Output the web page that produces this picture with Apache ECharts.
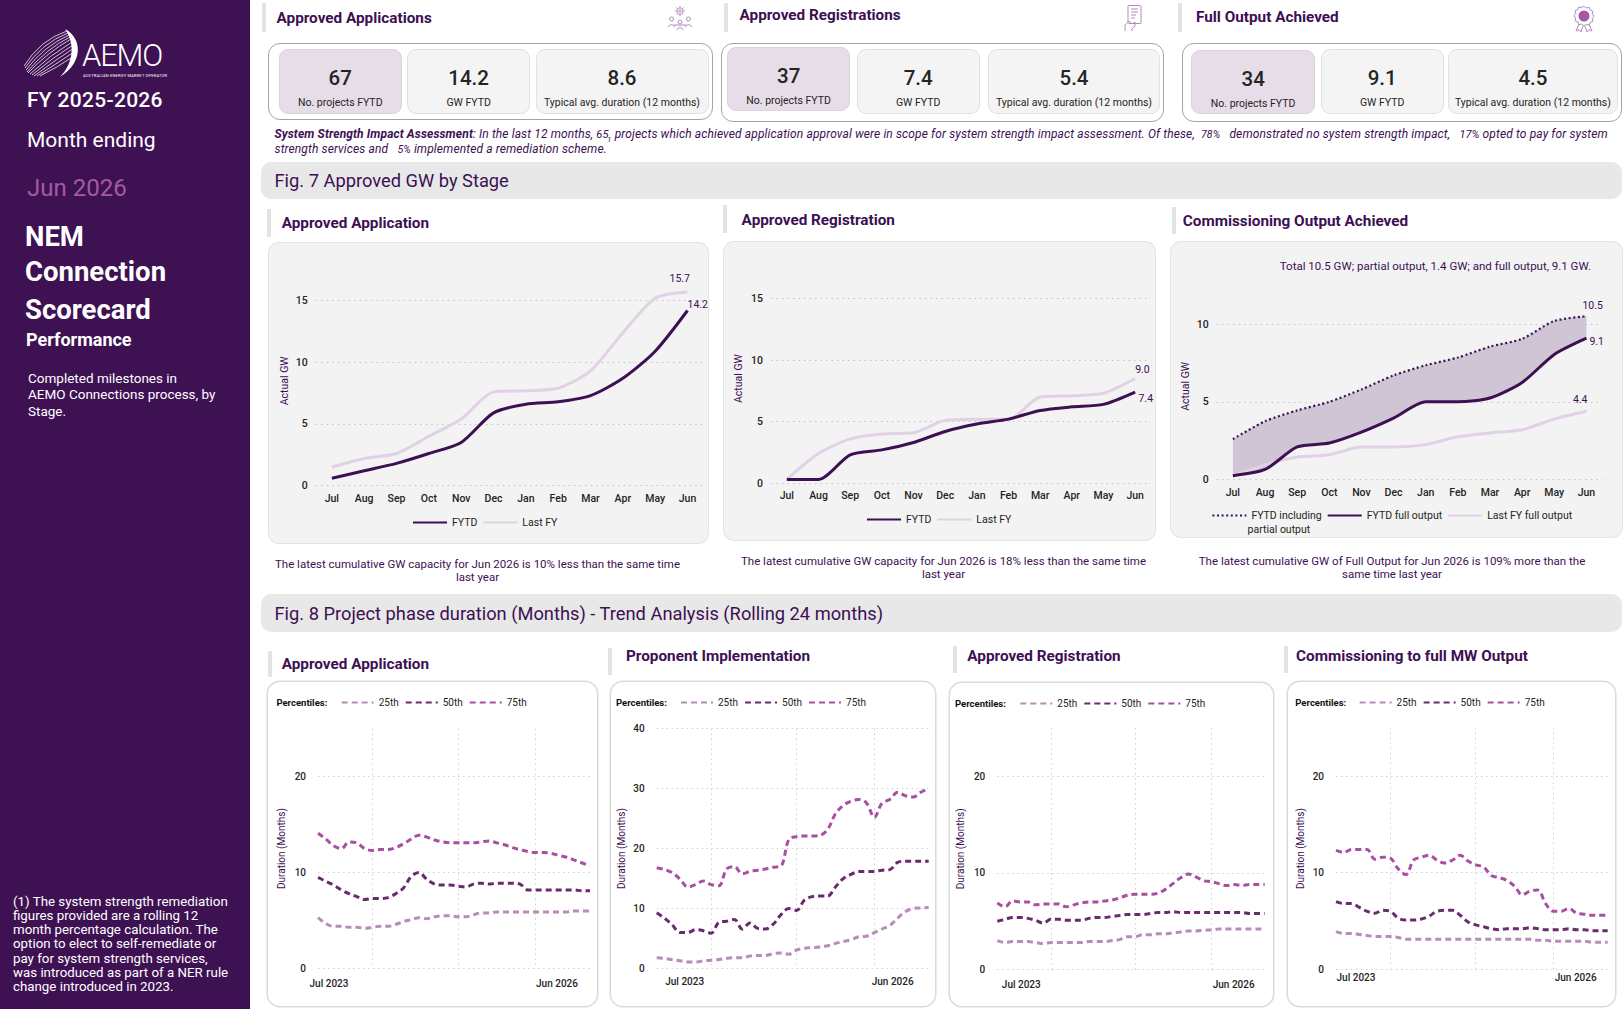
<!DOCTYPE html>
<html>
<head>
<meta charset="utf-8">
<title>NEM Connection Scorecard</title>
<script src="https://cdn.jsdelivr.net/npm/echarts@6.0.0/dist/echarts.min.js"></script>
<style>
html,body{margin:0;padding:0;}
body{width:1624px;height:1009px;position:relative;overflow:hidden;background:#fff;font-family:Roboto,"Noto Sans","DejaVu Sans",sans-serif;color:#252423;}
.a{position:absolute;white-space:nowrap;}
.hbar{position:absolute;width:4px;background:#e3e3e3;}
.h{position:absolute;font-weight:700;font-size:15.3px;line-height:20px;color:#3c1053;white-space:nowrap;}
.outer{position:absolute;border:1.5px solid #a3a3a3;border-radius:12px;background:#fff;box-sizing:border-box;}
.kcard{position:absolute;border:1px solid #e2e2e2;border-radius:9px;background:#f4f4f4;box-sizing:border-box;text-align:center;}
.kcard.hl{background:#e7dde8;border-color:#ddd1de;}
.kval{position:absolute;left:0;right:0;top:17px;font-size:20.5px;line-height:22px;font-weight:500;color:#252423;}
.klab{position:absolute;left:0;right:0;top:46.5px;font-size:10.5px;line-height:13px;color:#252423;white-space:nowrap;}
.banner{position:absolute;background:#e8e8e8;border-radius:10px;}
.btxt{position:absolute;font-size:18.3px;line-height:22px;color:#3c1053;white-space:nowrap;}
.c7{position:absolute;background:#f3f3f3;border-radius:10px;box-shadow:0 0 0 1px #e4e4e4;}
.c8{position:absolute;background:#fff;border-radius:12px;box-shadow:0 0 0 1.5px #dadada;}
.cap{position:absolute;width:480px;text-align:center;font-size:11.5px;line-height:13.6px;color:#3c1053;}
.ss{position:absolute;left:274.5px;top:126.5px;font-size:12px;letter-spacing:0.12px;line-height:14.5px;font-style:italic;color:#3c1053;white-space:nowrap;}
.ss sup{font-size:8px;line-height:0;vertical-align:top;position:relative;top:-2px;}
</style>
</head>
<body>
<!-- Sidebar -->
<div class="a" style="left:0;top:0;width:250px;height:1009px;background:#3e1153;"></div>
<svg class="a" style="left:20px;top:26px" width="160" height="56" viewBox="0 0 160 56">
  <g fill="none" stroke="#ffffff" stroke-width="0.8" opacity="0.95">
    <path d="M4 40 Q20 14 47 5"/>
    <path d="M5 42 Q22 17 48 7"/>
    <path d="M6 44 Q24 20 49 9"/>
    <path d="M7 46 Q26 23 50 11"/>
    <path d="M8 47 Q28 26 51 13"/>
    <path d="M10 48 Q30 29 52 16"/>
    <path d="M12 49 Q32 32 53 19"/>
    <path d="M14 50 Q34 35 54 22"/>
    <path d="M17 50 Q36 38 54 26"/>
    <path d="M20 50 Q38 41 54 30"/>
  </g>
  <path d="M45 3 C62 12 64 36 40 51 C54 37 55 17 45 3 Z" fill="#ffffff"/>
  <text x="62" y="40" font-size="31" fill="#ffffff" font-family="Roboto" font-weight="300" letter-spacing="-1.2">AEMO</text>
  <text x="63" y="51" font-size="4" fill="#ffffff" font-family="Roboto" textLength="84">AUSTRALIAN ENERGY MARKET OPERATOR</text>
</svg>
<div class="a" style="left:27px;top:87px;font-size:21px;line-height:26px;color:#fff;font-weight:500;letter-spacing:0.3px">FY 2025-2026</div>
<div class="a" style="left:27px;top:127px;font-size:21px;line-height:26px;color:#fff;">Month ending</div>
<div class="a" style="left:27px;top:173px;font-size:24px;line-height:30px;color:#a35b9f;">Jun 2026</div>
<div class="a" style="left:25px;top:221px;font-size:27.5px;line-height:32px;color:#fff;font-weight:700">NEM</div>
<div class="a" style="left:25px;top:256px;font-size:27.5px;line-height:32px;color:#fff;font-weight:700">Connection</div>
<div class="a" style="left:25px;top:294px;font-size:27.5px;line-height:32px;color:#fff;font-weight:700">Scorecard</div>
<div class="a" style="left:26px;top:329px;font-size:18px;line-height:22px;color:#fff;font-weight:700">Performance</div>
<div class="a" style="left:28px;top:369.7px;font-size:13.5px;line-height:16.5px;color:#fff;">Completed milestones in<br>AEMO Connections process, by<br>Stage.</div>
<div class="a" style="left:13px;top:894.5px;font-size:13.3px;line-height:14.3px;color:#fff;">(1) The system strength remediation<br>figures provided are a rolling 12<br>month percentage calculation. The<br>option to elect to self-remediate or<br>pay for system strength services,<br>was introduced as part of a NER rule<br>change introduced in 2023.</div>

<!-- KPI headers -->
<div class="hbar" style="left:262px;top:3px;height:29px"></div>
<div class="hbar" style="left:724px;top:3px;height:29px"></div>
<div class="hbar" style="left:1178px;top:3px;height:29px"></div>
<div id="kpiHeaders"></div>

<svg class="a" style="left:666px;top:4px" width="28" height="28" viewBox="0 0 28 28" fill="none" stroke="#b58bbd" stroke-width="1">
  <circle cx="14" cy="7" r="3.2"/><circle cx="14" cy="7" r="1.2"/>
  <path d="M14 2v1.5M14 10.5v1.5M9 7h1.5M17.5 7h1.5M10.5 3.5l1 1M16.5 9.5l1 1M17.5 3.5l-1 1M11.5 9.5l-1 1"/>
  <circle cx="5.5" cy="15" r="2"/><circle cx="22.5" cy="15" r="2"/><circle cx="14" cy="18" r="2"/>
  <path d="M2 23q3.5-5 7 0M19 23q3.5-5 7 0M10.5 26q3.5-5 7 0M8 21h12"/>
</svg>
<svg class="a" style="left:1122px;top:4px" width="24" height="28" viewBox="0 0 24 28" fill="none" stroke="#b58bbd" stroke-width="1">
  <rect x="6" y="1.5" width="13" height="18" rx="1"/>
  <path d="M9 5h7M9 8h7M9 11h5M9 14h4"/>
  <path d="M3 27v-6l4-4 3 3 3-2v4l-3 3v2"/>
</svg>
<svg class="a" style="left:1571px;top:5px" width="26" height="28" viewBox="0 0 26 28" fill="none" stroke="#b58bbd" stroke-width="1">
  <path d="M13 1l2.2 2 2.9-.7 1 2.8 2.8 1-.7 2.9 2 2.2-2 2.2.7 2.9-2.8 1-1 2.8-2.9-.7L13 21l-2.2-2-2.9.7-1-2.8-2.8-1 .7-2.9-2-2.2 2-2.2-.7-2.9 2.8-1 1-2.8 2.9.7z"/>
  <circle cx="13" cy="11" r="5.5" fill="#a259a6" stroke="none"/>
  <path d="M8 19l-3 7 3-1.5 2 2.5 2-6M18 19l3 7-3-1.5-2 2.5-2-6"/>
</svg>

<div id="kpiCards"></div>

<div class="ss" id="ssText"></div>

<!-- Fig 7 -->
<div class="banner" style="left:261px;top:161.6px;width:1361px;height:37.3px"></div>
<div class="btxt" style="left:274.5px;top:170px">Fig. 7 Approved GW by Stage</div>
<div class="hbar" style="left:267px;top:209px;height:28px"></div>
<div class="hbar" style="left:723px;top:205px;height:28px"></div>
<div class="hbar" style="left:1172px;top:207px;height:27px"></div>
<div class="h" style="left:281.7px;top:212.7px">Approved Application</div>
<div class="h" style="left:741.6px;top:209.6px">Approved Registration</div>
<div class="h" style="left:1182.8px;top:210.6px">Commissioning Output Achieved</div>
<div class="c7" id="f7a" style="left:269.3px;top:243.4px;width:439px;height:300px"></div>
<div class="c7" id="f7b" style="left:724px;top:242.4px;width:431px;height:298px"></div>
<div class="c7" id="f7c" style="left:1171.4px;top:242.4px;width:450.6px;height:295px"></div>
<div class="cap" style="left:237.5px;top:557.7px">The latest cumulative GW capacity for Jun 2026 is 10% less than the same time<br>last year</div>
<div class="cap" style="left:703.5px;top:554.6px">The latest cumulative GW capacity for Jun 2026 is 18% less than the same time<br>last year</div>
<div class="cap" style="left:1152px;top:554.6px">The latest cumulative GW of Full Output for Jun 2026 is 109% more than the<br>same time last year</div>

<!-- Fig 8 -->
<div class="banner" style="left:261px;top:593.5px;width:1361px;height:38.3px"></div>
<div class="btxt" style="left:274.5px;top:603px">Fig. 8 Project phase duration (Months) - Trend Analysis (Rolling 24 months)</div>
<div class="hbar" style="left:268px;top:651px;height:26px"></div>
<div class="hbar" style="left:608px;top:648px;height:27px"></div>
<div class="hbar" style="left:953px;top:646px;height:27px"></div>
<div class="hbar" style="left:1284px;top:646px;height:27px"></div>
<div class="h" style="left:281.7px;top:654.3px">Approved Application</div>
<div class="h" style="left:626px;top:646px">Proponent Implementation</div>
<div class="h" style="left:967.3px;top:646px">Approved Registration</div>
<div class="h" style="left:1296px;top:646px">Commissioning to full MW Output</div>
<div class="c8" id="f8a" style="left:268.3px;top:681.7px;width:328.3px;height:324px"></div>
<div class="c8" id="f8b" style="left:611px;top:681.7px;width:324.2px;height:324px"></div>
<div class="c8" id="f8c" style="left:950px;top:682.7px;width:323px;height:323px"></div>
<div class="c8" id="f8d" style="left:1287.7px;top:682px;width:327px;height:324px"></div>

<script>
// ---------------- DATA ----------------
const kpiTitles = ['Approved Applications', 'Approved Registrations', 'Full Output Achieved'];
const kpiCounts = ['67', '37', '34'];
const kpiGW = ['14.2', '7.4', '9.1'];
const kpiDuration = ['8.6', '5.4', '4.5'];
const kpiLabels = ['No. projects FYTD', 'GW FYTD', 'Typical avg. duration (12 months)'];

const ssProjects = '65';
const ssNoImpact = '78%';
const ssPay = '17%';
const ssRemediate = '5%';

const fig7Months = ['Jul','Aug','Sep','Oct','Nov','Dec','Jan','Feb','Mar','Apr','May','Jun'];
const appFYTD   = [0.6, 1.2, 1.8, 2.6, 3.5, 5.9, 6.6, 6.8, 7.3, 8.7, 10.9, 14.2];
const appLastFY = [1.5, 2.2, 2.6, 4.0, 5.4, 7.6, 7.7, 7.9, 9.3, 12.4, 15.2, 15.7];
const regFYTD   = [0.3, 0.3, 2.3, 2.7, 3.3, 4.2, 4.8, 5.2, 5.9, 6.2, 6.4, 7.4];
const regLastFY = [0.3, 2.4, 3.6, 4.0, 4.1, 5.1, 5.2, 5.2, 7.0, 7.1, 7.3, 8.5];
const regLastFYLabel = '9.0';
const comPartial = [2.6, 3.75, 4.45, 5.0, 5.8, 6.7, 7.35, 7.85, 8.55, 9.05, 10.2, 10.5];
const comFull    = [0.25, 0.65, 2.1, 2.35, 3.05, 3.95, 5.0, 5.0, 5.25, 6.25, 8.05, 9.1];
const comLastFY  = [0.25, 0.95, 1.45, 1.6, 2.1, 2.1, 2.25, 2.75, 3.0, 3.2, 3.9, 4.4];
const comSubtitle = 'Total 10.5 GW; partial output, 1.4 GW; and full output, 9.1 GW.';

const fig8Periods = ['Jul 2023','Aug 2023','Sep 2023','Oct 2023','Nov 2023','Dec 2023','Jan 2024','Feb 2024','Mar 2024','Apr 2024','May 2024','Jun 2024',
  'Jul 2024','Aug 2024','Sep 2024','Oct 2024','Nov 2024','Dec 2024','Jan 2025','Feb 2025','Mar 2025','Apr 2025','May 2025','Jun 2025',
  'Jul 2025','Aug 2025','Sep 2025','Oct 2025','Nov 2025','Dec 2025','Jan 2026','Feb 2026','Mar 2026','Apr 2026','May 2026','Jun 2026'];
const percentileNames = ['25th', '50th', '75th'];

const aaP25 = [5.3,4.7,4.4,4.4,4.3,4.3,4.2,4.3,4.4,4.4,4.6,4.9,5.1,5.3,5.2,5.4,5.5,5.5,5.4,5.4,5.6,5.8,5.8,5.9,5.9,5.9,5.9,5.9,5.9,5.9,5.9,5.9,5.9,6.0,6.0,6.0];
const aaP50 = [9.5,9.1,8.7,8.2,7.8,7.5,7.2,7.3,7.3,7.4,7.8,8.4,9.6,10.0,9.3,8.8,8.7,8.7,8.6,8.5,8.8,8.9,8.8,8.9,8.9,8.9,8.8,8.2,8.2,8.2,8.2,8.2,8.2,8.2,8.1,8.1];
const aaP75 = [14.1,13.5,12.8,12.5,13.2,13.1,12.5,12.3,12.4,12.4,12.6,13.0,13.5,13.9,13.7,13.4,13.2,13.1,13.1,13.1,13.1,13.2,13.3,13.1,12.9,12.6,12.4,12.2,12.1,12.1,12.0,11.8,11.6,11.3,11.0,10.7];

const piP25 = [1.8,1.7,1.5,1.3,1.1,1.1,1.3,1.4,1.5,1.7,1.8,1.8,2.1,2.2,2.2,2.5,2.6,2.4,3.1,3.4,3.5,3.6,3.8,4.2,4.5,4.8,5.3,5.4,6.0,6.6,7.2,8.4,9.5,10.0,10.1,10.2];
const piP50 = [9.3,8.4,7.3,6.0,6.0,6.5,6.3,5.9,7.7,7.9,8.2,6.6,7.6,6.7,6.6,7.4,9.0,10.0,9.7,11.4,12.0,12.1,12.1,13.6,15.0,15.7,16.2,16.2,16.2,16.4,16.5,17.7,17.9,17.9,17.9,17.9];
const piP75 = [16.8,16.5,16.0,14.9,13.6,14.0,14.6,14.0,13.8,16.6,17.0,15.8,16.2,16.4,16.6,16.9,17.1,21.5,22.0,22.1,22.1,22.2,23.2,25.8,27.2,27.9,28.2,27.6,25.2,27.6,28.2,29.4,28.8,28.6,29.4,30.0];

const arP25 = [3.0,2.8,2.9,2.9,2.9,2.8,2.7,2.8,2.8,2.8,2.8,2.8,2.9,2.9,2.9,3.0,3.1,3.4,3.4,3.6,3.6,3.7,3.7,3.8,3.9,4.0,4.0,4.1,4.1,4.2,4.2,4.2,4.2,4.2,4.2,4.2];
const arP50 = [5.0,5.2,5.4,5.4,5.3,5.1,4.8,5.2,5.2,5.1,5.1,5.1,5.3,5.4,5.4,5.5,5.6,5.7,5.7,5.7,5.8,5.9,5.9,6.0,5.9,5.9,5.9,5.9,5.9,5.9,5.9,5.9,5.9,5.8,5.8,5.8];
const arP75 = [6.9,6.5,7.1,7.0,7.0,6.7,6.8,6.8,6.8,6.5,6.7,6.9,7.0,7.0,7.1,7.2,7.4,7.7,7.8,7.8,7.8,7.9,8.3,8.9,9.5,9.9,9.6,9.2,9.1,8.9,8.7,8.8,8.7,8.8,8.8,8.8];

const cfP25 = [3.9,3.7,3.7,3.6,3.5,3.4,3.4,3.4,3.3,3.1,3.1,3.1,3.1,3.1,3.1,3.1,3.1,3.1,3.1,3.1,3.1,3.1,3.1,3.1,3.1,3.1,3.0,3.0,2.9,2.9,2.9,2.9,2.9,2.8,2.8,2.8];
const cfP50 = [7.0,6.8,6.8,6.4,6.0,5.8,6.1,6.0,5.3,5.1,5.1,5.2,5.5,6.0,6.1,6.1,5.6,4.9,4.6,4.4,4.2,4.1,4.2,4.2,4.2,4.3,4.2,4.1,4.1,4.1,4.2,4.1,4.1,4.0,4.0,4.0];
const cfP75 = [12.3,12.1,12.4,12.4,12.4,11.4,11.6,11.5,10.4,9.8,11.3,11.6,11.8,11.3,11.0,11.3,11.8,11.2,10.8,10.6,9.7,9.5,9.2,8.6,7.7,8.1,8.2,6.8,6.0,6.0,6.3,5.8,5.7,5.6,5.6,5.6];

// ---------------- STYLE ----------------
const F = 'Roboto, "Noto Sans", sans-serif';
const PURPLE = '#3c1053';
const LIGHT = '#e0d2e4';
const TICK = '#252423';
const GRID = '#c4c4c4';
const C25 = '#b68db8', C50 = '#6a2a6e', C75 = '#a74fa0';

// ---------------- KPI ----------------
const headerPos = [[276.5, 7.6], [739.5, 4.5], [1196, 6.6]];
let hh = '';
kpiTitles.forEach((t, i) => { hh += `<div class="h" style="left:${headerPos[i][0]}px;top:${headerPos[i][1]}px">${t}</div>`; });
document.getElementById('kpiHeaders').innerHTML = hh;

const outerBoxes = [[268, 42.5, 444.6, 77.6], [721, 42.5, 443, 79.7], [1181.7, 42.5, 440.5, 79.5]];
const cardBoxes = [
  [[278.6, 48.7, 123.3, 65.2], [407, 48.7, 123.3, 65.2], [535.5, 48.7, 173, 65.2]],
  [[727, 46.6, 123.3, 64.2], [856.5, 48.7, 123.3, 65], [988, 48.7, 172, 65]],
  [[1191, 49.7, 124.3, 64.2], [1320.5, 48.7, 123.3, 65], [1448, 48.7, 169.8, 65]]
];
let kh = '';
outerBoxes.forEach((b, g) => {
  kh += `<div class="outer" style="left:${b[0]}px;top:${b[1]}px;width:${b[2]}px;height:${b[3]}px"></div>`;
  const vals = [kpiCounts[g], kpiGW[g], kpiDuration[g]];
  cardBoxes[g].forEach((c, k) => {
    kh += `<div class="kcard${k === 0 ? ' hl' : ''}" style="left:${c[0]}px;top:${c[1]}px;width:${c[2]}px;height:${c[3]}px">` +
          `<div class="kval">${vals[k]}</div><div class="klab">${kpiLabels[k]}</div></div>`;
  });
});
document.getElementById('kpiCards').innerHTML = kh;

document.getElementById('ssText').innerHTML =
  `<b>System Strength Impact Assessment</b>: In the last 12 months, <span style="font-size:11px">${ssProjects}</span>&nbsp; projects which achieved application approval were in scope for system strength impact assessment. Of these, &nbsp;<span style="font-size:10.5px">${ssNoImpact}</span> &nbsp; demonstrated no system strength impact, &nbsp; <span style="font-size:11px">${ssPay}</span> opted to pay for system<br>strength services and &nbsp; <span style="font-size:10.5px">${ssRemediate}</span> implemented a remediation scheme.<sup>1</sup>`;

// ---------------- FIG 7 ----------------
function endLbl(offset, text) {
  return { show: true, distance: 0, offset: offset, color: PURPLE, fontSize: 10.5, fontFamily: F,
           formatter: (p) => text || Number(p.value).toFixed(1) };
}
function lineS(name, data, color, width, extra) {
  return Object.assign({ name: name, type: 'line', data: data, symbol: 'none', smooth: 0.25,
    lineStyle: { color: color, width: width }, itemStyle: { color: color } }, extra || {});
}
function fig7(id, cfg) {
  const ch = echarts.init(document.getElementById(id), null, { renderer: 'svg' });
  const opt = {
    animation: false,
    textStyle: { fontFamily: F },
    grid: Object.assign({ outerBoundsMode: 'none' }, cfg.grid),
    legend: { left: cfg.legLeft, top: cfg.legTop, padding: 0, itemWidth: 34, itemHeight: 10, itemGap: 5,
      itemStyle: { opacity: 0 },
      textStyle: { fontSize: 10.5, color: TICK, fontFamily: F }, data: cfg.legendData,
      formatter: cfg.legendFormatter || '{name}' },
    xAxis: { type: 'category', data: fig7Months, boundaryGap: true,
      axisLine: { show: false }, axisTick: { show: false },
      axisLabel: { color: TICK, fontSize: 10.5, fontWeight: 500, margin: cfg.xMargin, fontFamily: F } },
    yAxis: { type: 'value', min: 0, max: cfg.max, interval: 5, name: 'Actual GW', nameLocation: 'middle',
      nameGap: cfg.nameGap, nameMoveOverlap: false, nameTextStyle: { color: PURPLE, fontSize: 10.5, fontFamily: F },
      axisLine: { show: false }, axisTick: { show: false },
      axisLabel: { color: TICK, fontSize: 10.5, fontWeight: 500, margin: 8, showMaxLabel: false, fontFamily: F },
      splitLine: { show: true, showMaxLine: false, lineStyle: { color: GRID, type: [1.5, 4], width: 1 } } },
    series: cfg.series
  };
  if (cfg.title) opt.title = cfg.title;
  if (cfg.graphic) opt.graphic = cfg.graphic;
  ch.setOption(opt);
}

fig7('f7a', {
  grid: { left: 46.7, top: 33, width: 388, height: 209.6 }, max: 17, nameGap: 26.2, xMargin: 7,
  legLeft: 143, legTop: 274, legendData: ['FYTD', 'Last FY'],
  series: [
    lineS('Last FY', appLastFY, LIGHT, 3, { z: 2, endLabel: endLbl([-18, -14]) }),
    lineS('FYTD', appFYTD, PURPLE, 3, { z: 3, endLabel: endLbl([0, -6.4]) })
  ]
});
fig7('f7b', {
  grid: { left: 47, top: 32, width: 380, height: 209.1 }, max: 17, nameGap: 27, xMargin: 7,
  legLeft: 142, legTop: 272, legendData: ['FYTD', 'Last FY'],
  series: [
    lineS('Last FY', regLastFY, LIGHT, 3, { z: 2, endLabel: endLbl([0, -9.3], regLastFYLabel) }),
    lineS('FYTD', regFYTD, PURPLE, 3, { z: 3, endLabel: endLbl([3.3, 6.2]) })
  ]
});
const comBand = comPartial.map((v, i) => +(v - comFull[i]).toFixed(2));
fig7('f7c', {
  grid: { left: 45.8, top: 51, width: 385.7, height: 186.6 }, max: 12, nameGap: 25.8, xMargin: 7,
  legLeft: 40.4, legTop: 268,
  legendData: ['FYTD including partial output', 'FYTD full output', 'Last FY full output'],
  legendFormatter: (n) => n === 'FYTD including partial output' ? 'FYTD including' : n,
  title: { text: comSubtitle, right: 26, top: 13, textStyle: { fontSize: 11.5, fontWeight: 400, color: PURPLE, fontFamily: F } },
  graphic: [{ type: 'text', left: 76.6, top: 281.5, style: { text: 'partial output', fill: TICK, fontSize: 10.5, fontFamily: F } }],
  series: [
    lineS('FYTD full output', comFull, PURPLE, 3, { stack: 'band', z: 4, endLabel: endLbl([3, 3.3]) }),
    lineS('band', comBand, '#cfc5d5', 0, { stack: 'band', z: 1, silent: true,
      lineStyle: { width: 0, opacity: 0 }, areaStyle: { color: '#cfc5d5', opacity: 1 } }),
    lineS('Last FY full output', comLastFY, LIGHT, 3, { z: 3, endLabel: endLbl([-13.5, -12]) }),
    lineS('FYTD including partial output', comPartial, PURPLE, 2.2, { z: 5,
      lineStyle: { color: PURPLE, width: 2.2, type: [2, 2.6] }, endLabel: endLbl([-4, -11]) })
  ]
});

// ---------------- FIG 8 ----------------
function pctS(name, data, color) {
  return { name: name, type: 'line', data: data, symbol: 'none', smooth: 0.35,
    lineStyle: { color: color, width: 3, type: [6, 4] }, itemStyle: { color: color } };
}
function fig8(id, cfg, p25, p50, p75) {
  const ch = echarts.init(document.getElementById(id), null, { renderer: 'svg' });
  const last = fig8Periods.length - 1;
  const lblBase = { fontSize: 10, fontWeight: 500, color: TICK, fontFamily: F };
  ch.setOption({
    animation: false,
    textStyle: { fontFamily: F },
    graphic: [{ type: 'text', left: cfg.pctLeft, top: 15,
      style: { text: 'Percentiles:', fill: '#111', fontSize: 9.5, fontWeight: 700, fontFamily: F } }],
    legend: { left: cfg.legLeft, top: 15.5, padding: 0, itemWidth: 32, itemHeight: 8, itemGap: 6,
      itemStyle: { opacity: 0 },
      textStyle: { fontSize: 10, color: TICK, fontFamily: F }, data: percentileNames },
    grid: Object.assign({ outerBoundsMode: 'none' }, cfg.grid),
    xAxis: { type: 'category', data: fig8Periods, boundaryGap: false,
      axisLine: { show: false }, axisTick: { show: false },
      axisLabel: Object.assign({}, lblBase, {
        margin: cfg.xMargin,
        interval: (i) => i === 0 || i === last,
        formatter: (v, i) => i === 0 ? '{a|' + v + '}' : '{b|' + v + '}',
        rich: { a: Object.assign({ padding: [0, 0, 0, cfg.firstShift * 2] }, lblBase),
                b: Object.assign({ padding: [0, cfg.lastShift * 2, 0, 0] }, lblBase) } }),
      splitLine: { show: true, interval: (i) => i === 7 || i === 18 || i === 28,
        lineStyle: { color: '#cfcfcf', type: [1.5, 3.5], width: 1 } } },
    yAxis: { type: 'value', min: 0, max: cfg.max, interval: 10, name: 'Duration (Months)',
      nameLocation: 'middle', nameGap: cfg.nameGap, nameMoveOverlap: false,
      nameTextStyle: { color: PURPLE, fontSize: 10, fontFamily: F },
      axisLine: { show: false }, axisTick: { show: false },
      axisLabel: Object.assign({}, lblBase, { margin: 12, showMaxLabel: cfg.max % 10 === 0 }),
      splitLine: { show: true, showMaxLine: cfg.max % 10 === 0, lineStyle: { color: '#cfcfcf', type: [1.5, 3.5], width: 1 } } },
    series: [pctS(percentileNames[0], p25, C25), pctS(percentileNames[1], p50, C50), pctS(percentileNames[2], p75, C75)]
  });
}
fig8('f8a', { grid: { left: 50, top: 46.6, width: 272, height: 240 }, max: 25, nameGap: 31.4, xMargin: 9.7,
  firstShift: 11, lastShift: 33, legLeft: 72.7, pctLeft: 8.4 }, aaP25, aaP50, aaP75);
fig8('f8b', { grid: { left: 45.7, top: 46.6, width: 272, height: 240 }, max: 40, nameGap: 30.5, xMargin: 7.5,
  firstShift: 28, lastShift: 36, legLeft: 69, pctLeft: 5 }, piP25, piP50, piP75);
fig8('f8c', { grid: { left: 47.3, top: 45, width: 267.4, height: 241.6 }, max: 25, nameGap: 32.1, xMargin: 9.7,
  firstShift: 24, lastShift: 31, legLeft: 69.3, pctLeft: 5 }, arP25, arP50, arP75);
fig8('f8d', { grid: { left: 48, top: 45.7, width: 271.7, height: 241.6 }, max: 25, nameGap: 30.5, xMargin: 3.4,
  firstShift: 20, lastShift: 32, legLeft: 70.6, pctLeft: 7.3 }, cfP25, cfP50, cfP75);
</script>
</body>
</html>
